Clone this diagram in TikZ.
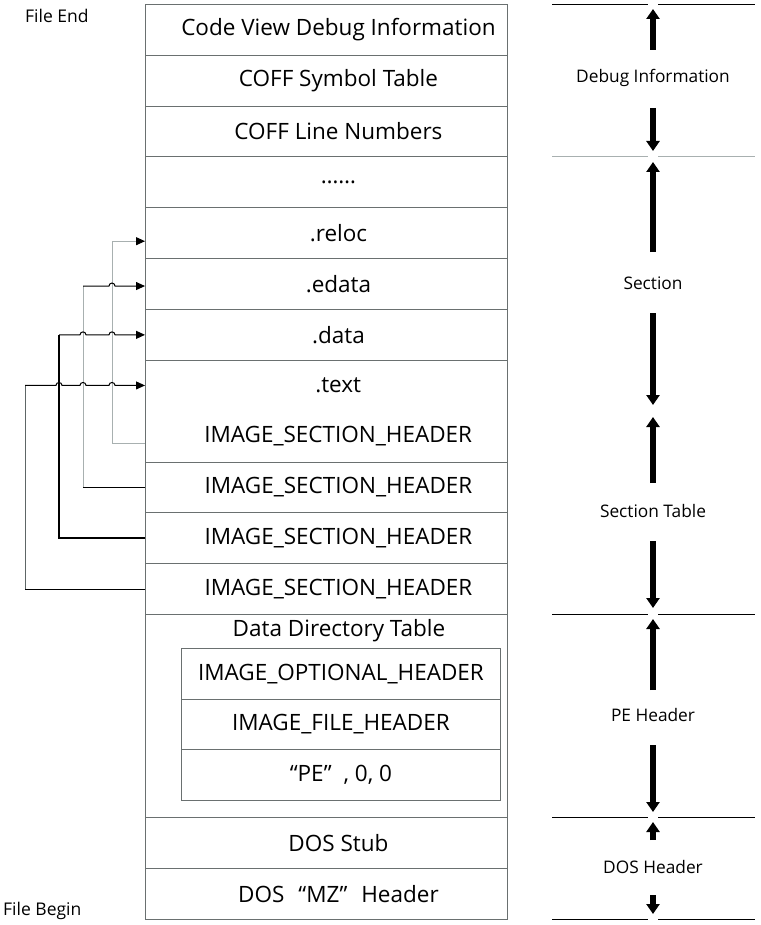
\documentclass[tikz,border=0pt]{standalone}
\usepackage{fontspec}
\setmainfont{Open Sans}
\usetikzlibrary{arrows.meta,calc}
\definecolor{cellc}{HTML}{6A7070}
\definecolor{lgray}{HTML}{A8B0B0}
\definecolor{dgray}{HTML}{5E6666}
\begin{document}
\begin{tikzpicture}[x=1pt,y=-1pt,
  cell/.style={draw=cellc, line width=0.9pt, minimum width=362pt, minimum height=50.83pt,
    inner sep=0pt, anchor=north west, font=\fontsize{22.5}{26}\selectfont,
    execute at begin node=\hspace*{24pt}},
  half/.style={minimum width=362pt, minimum height=50.83pt, inner sep=0pt,
    anchor=north west, font=\fontsize{22.5}{26}\selectfont,
    execute at begin node=\hspace*{24pt}},
  icell/.style={draw=cellc, line width=0.9pt, minimum width=319pt, minimum height=50.67pt,
    inner sep=0pt, anchor=north west, font=\fontsize{22.5}{26}\selectfont},
  lab/.style={font=\fontsize{17.3}{20}\selectfont, inner sep=1pt},
  side/.style={font=\fontsize{17.5}{20}\selectfont, inner sep=1pt},
  sep/.style={line width=0.9pt, draw=black},
  big/.style={line width=6.5pt, -{Triangle[length=10pt,width=13pt]}},
  hl/.style={line width=1pt, draw=black},
  tipin/.style={-{Triangle[length=9pt,width=8pt,color=black]}},
]
\useasboundingbox (0,0) rectangle (760,925);

% main column
\node[cell] (cv)    at (145,4)      {Code View Debug Information};
\node[cell] (sym)   at (145,54.83)  {COFF Symbol Table};
\node[cell] (line)  at (145,105.67) {COFF Line Numbers};
\node[cell] (dots)  at (145,156.5)  {……};
\node[cell] (reloc) at (145,207.33) {.reloc};
\node[cell] (edata) at (145,258.17) {.edata};
\node[cell] (data)  at (145,309)    {.data};
\node[cell, minimum height=101.67pt] (tcell) at (145,359.83) {};
\node[half] (text)  at (145,359.83) {.text};
\node[half] (ish1)  at (145,410.67) {IMAGE\_SECTION\_HEADER};
\node[cell] (ish2)  at (145,461.5)  {IMAGE\_SECTION\_HEADER};
\node[cell] (ish3)  at (145,512.33) {IMAGE\_SECTION\_HEADER};
\node[cell] (ish4)  at (145,563.17) {IMAGE\_SECTION\_HEADER};
\node[cell, minimum height=203.33pt] (pe) at (145,614) {};
\node[font=\fontsize{22.5}{26}\selectfont, inner sep=0pt] (ddt) at (339,631) {Data Directory Table};
\node[icell] (opt)   at (181,648)    {IMAGE\_OPTIONAL\_HEADER};
\node[icell] (fhdr)  at (181,698.67) {IMAGE\_FILE\_HEADER};
\node[icell] (pesig) at (181,749.33) {“PE”\hspace{12pt}, 0, 0};
\node[cell] (stub)  at (145,817.33) {DOS Stub};
\node[cell] (mz)    at (145,868.17) {DOS\hspace{14pt}“MZ”\hspace{14pt}Header};

% file labels
\node[side, anchor=west] (fend) at (24,16) {File End};
\node[side, anchor=west] (fbeg) at (2,911) {File Begin};

% right side separators
\foreach \yy/\cc in {4/black,156.5/lgray,614/black,817.33/black,919/black}{
  \draw[sep, draw=\cc] (552,\yy) -- (648,\yy);
  \draw[sep, draw=\cc] (658,\yy) -- (755,\yy);
}

% right labels
\node[lab] (dbg) at (653,78)  {Debug Information};
\node[lab] (sec) at (653,283) {Section};
\node[lab] (st)  at (653,511) {Section Table};
\node[lab] (peh) at (653,715) {PE Header};
\node[lab] (dos) at (653,867) {DOS Header};

% right arrows
\draw[big] (653,50)  -- (653,9);
\draw[big] (653,108) -- (653,151);
\draw[big] (653,252) -- (653,162);
\draw[big] (653,313) -- (653,405);
\draw[big] (653,483) -- (653,417);
\draw[big] (653,541) -- (653,608);
\draw[big] (653,690) -- (653,619);
\draw[big] (653,745) -- (653,812);
\draw[big] (653,840) -- (653,822);
\draw[big] (653,895) -- (653,914);

% connectors
\coordinate (v1) at (112,0);
\coordinate (v2) at (83,0);
\coordinate (v3) at (59,0);
\coordinate (v4) at (25,0);
\coordinate (a1) at ([yshift=-7pt]ish1.west);
\coordinate (b1) at ([yshift=-8pt]reloc.west);
\coordinate (a2) at (ish2.west);
\coordinate (b2) at ([yshift=-2pt]edata.west);
\coordinate (a3) at (ish3.west);
\coordinate (b3) at (data.west);
\coordinate (a4) at (ish4.west);
\coordinate (b4) at (text.west);

% connector 1 (.reloc)
\draw[line width=1pt, draw=lgray] (a1) -- (a1 -| v1) -- (b1 -| v1);
\draw[line width=1pt, draw=lgray, tipin] (b1 -| v1) -- (b1);
% connector 2 (.edata)
\draw[line width=1pt, draw=lgray] (a2 -| v2) -- (b2 -| v2);
\draw[hl] (a2) -- (a2 -| v2);
\draw[hl, tipin] (b2 -| v2) -- ($(b2 -| v1)+(-3,0)$) arc[start angle=180, end angle=360, radius=3] -- (b2);
% connector 3 (.data)
\draw[line width=1.6pt, draw=black] (a3) -- (a3 -| v3) -- (b3 -| v3);
\draw[hl, tipin] (b3 -| v3) -- ($(b3 -| v2)+(-3,0)$) arc[start angle=180, end angle=360, radius=3]
   -- ($(b3 -| v1)+(-3,0)$) arc[start angle=180, end angle=360, radius=3] -- (b3);
% connector 4 (.text)
\draw[line width=1pt, draw=dgray] (a4 -| v4) -- (b4 -| v4);
\draw[hl] (a4) -- (a4 -| v4);
\draw[hl, tipin] (b4 -| v4) -- ($(b4 -| v3)+(-3,0)$) arc[start angle=180, end angle=360, radius=3]
   -- ($(b4 -| v2)+(-3,0)$) arc[start angle=180, end angle=360, radius=3]
   -- ($(b4 -| v1)+(-3,0)$) arc[start angle=180, end angle=360, radius=3] -- (b4);
\end{tikzpicture}
\end{document}
